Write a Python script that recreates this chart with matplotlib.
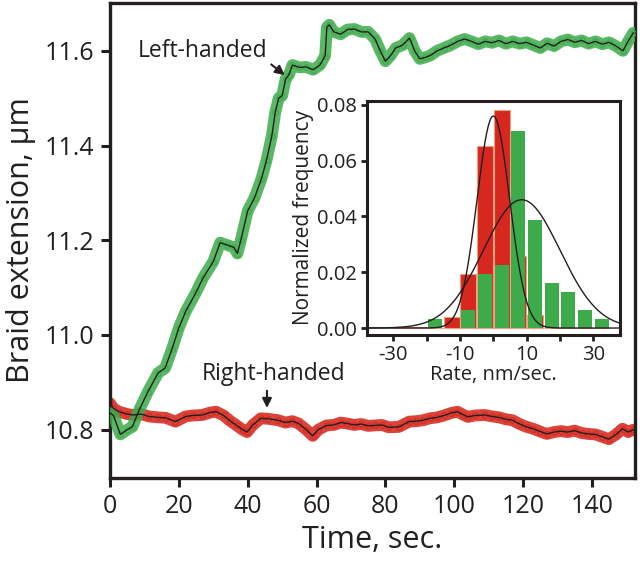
import numpy as np
import matplotlib
matplotlib.use("Agg")
import matplotlib.pyplot as plt

plt.rcParams['font.family'] = ['Open Sans', 'DejaVu Sans']

# ---- main trace data (time in s, extension in um) ----
t_left = [0, 1, 3, 5, 6.5, 8.5, 11, 14, 16, 18, 20, 22, 25, 27, 30, 32, 34, 36, 37, 38,
          40, 42, 44, 45.5, 47, 48, 49, 50, 51, 52, 53, 55, 57, 59, 61, 62.5, 63, 63.7,
          65, 67, 69, 71, 73, 75, 77, 78.5, 80, 81.5, 83, 85, 87, 88.5, 90, 91.5, 93,
          95, 97, 99, 101, 103, 105, 107, 109, 111, 113, 115, 117, 119, 121, 123, 125,
          127, 129, 131, 133, 135, 137, 139, 141, 143, 145, 147, 149, 150.5, 152]
v_left = [10.835, 10.83, 10.79, 10.80, 10.806, 10.842, 10.88, 10.92, 10.93, 10.97,
          11.015, 11.05, 11.09, 11.12, 11.155, 11.195, 11.19, 11.185, 11.172, 11.20,
          11.262, 11.29, 11.33, 11.37, 11.42, 11.47, 11.50, 11.505, 11.54, 11.55,
          11.57, 11.565, 11.566, 11.56, 11.57, 11.59, 11.65, 11.655,
          11.64, 11.635, 11.645, 11.646, 11.64, 11.64, 11.625, 11.60, 11.578, 11.59,
          11.606, 11.612, 11.627, 11.60, 11.583, 11.586, 11.59,
          11.60, 11.606, 11.612, 11.62, 11.625, 11.62, 11.614, 11.62, 11.617, 11.622,
          11.615, 11.62, 11.615, 11.618, 11.612, 11.606,
          11.616, 11.61, 11.62, 11.624, 11.618, 11.622, 11.615, 11.62, 11.614, 11.618,
          11.61, 11.60, 11.62, 11.638]

t_right = [0, 1, 2.6, 5, 6.8, 9, 11.3, 14, 16.2, 19, 22, 24, 26.8, 29, 30.8, 33, 35,
           36.8, 38.5, 39.8, 41.5, 43.8, 46, 48.8, 51, 53, 54.8, 57, 58.9, 60.5, 62.9,
           65, 67, 68.9, 71, 73, 75, 76.9, 79, 81, 83.9, 86.9, 89, 91, 92.9, 95, 97,
           99, 100.9, 102.5, 103.9, 106, 108.9, 111, 113, 115, 116.9, 119, 121, 122.9,
           125, 126.9, 129, 131, 132.9, 135, 137, 138.9, 141, 143, 144.9, 147, 148.9,
           150.5, 152]
v_right = [10.856, 10.845, 10.838, 10.833, 10.831, 10.833, 10.828, 10.826, 10.825,
           10.817, 10.828, 10.83, 10.831, 10.836, 10.838, 10.83, 10.818,
           10.809, 10.80, 10.795, 10.81, 10.824, 10.823, 10.820, 10.815, 10.818,
           10.813, 10.80, 10.787, 10.80, 10.809,
           10.81, 10.815, 10.813, 10.81, 10.812, 10.808, 10.809, 10.81, 10.805,
           10.806, 10.817, 10.818, 10.82, 10.824, 10.826, 10.83,
           10.835, 10.838, 10.832, 10.827, 10.83, 10.831, 10.828, 10.826, 10.822,
           10.820, 10.812, 10.806, 10.802,
           10.796, 10.791, 10.795, 10.797, 10.795, 10.798, 10.793, 10.791, 10.79,
           10.785, 10.78, 10.79, 10.802, 10.795, 10.80]

x_ticks = [0, 20, 40, 60, 80, 100, 120, 140]
y_ticks = [10.8, 11.0, 11.2, 11.4, 11.6]

# ---- inset histogram data ----
bin_left = [-30, -25, -20, -15, -10, -5, 0, 5, 10, 15, 20, 25, 30]
freq_right = [0.0005, 0.0005, 0.0, 0.0038, 0.0193, 0.0654, 0.0782, 0.0257, 0.0045,
              0.0, 0.0, 0.0, 0.0]
freq_left = [0.0, 0.0, 0.0033, 0.0, 0.0066, 0.0193, 0.0226, 0.0708, 0.0386,
             0.0161, 0.0129, 0.0066, 0.0033]
# Gaussian fit parameters (amplitude, mean, sigma)
fit_right = (0.076, 0.0, 4.9)
fit_left = (0.046, 8.5, 11.5)

GREEN = '#3dab4a'
RED = '#d6281f'
DARK = '#231f20'

fig = plt.figure(figsize=(6.4, 5.69), dpi=100)
ax = fig.add_axes([110/640, 1-478/569, 525/640, 475/569])

# point cloud bands
ax.plot(t_right, v_right, color=RED, lw=8.5, alpha=0.88, solid_capstyle='round',
        solid_joinstyle='round', zorder=2)
ax.plot(t_left, v_left, color=GREEN, lw=8.5, alpha=0.85, solid_capstyle='round',
        solid_joinstyle='round', zorder=3)
ax.plot(t_right, v_right, 'o', mfc='none', mec=RED, ms=4, mew=0.8, zorder=2)
ax.plot(t_left, v_left, 'o', mfc='none', mec=GREEN, ms=4, mew=0.8, zorder=3)
ax.plot(t_right, v_right, color=DARK, lw=1.0, zorder=4)
ax.plot(t_left, v_left, color=DARK, lw=1.0, zorder=5)

ax.set_xlim(0, 152.5)
ax.set_ylim(10.698, 11.701)
ax.set_xticks(x_ticks)
ax.set_yticks(y_ticks)
ax.set_yticklabels([f'{v:.1f}' for v in y_ticks])
for s in ax.spines.values():
    s.set_linewidth(2.4)
    s.set_color(DARK)
ax.tick_params(direction='out', length=6.5, width=2.2, labelsize=18, colors=DARK, pad=5)
ax.set_xlabel('Time, sec.', fontsize=22, color=DARK, labelpad=4)
ax.set_ylabel('Braid extension, μm', fontsize=22, color=DARK, labelpad=6)

ax.annotate('', xy=(51.4, 11.545), xytext=(46.2, 11.575),
            arrowprops=dict(arrowstyle='-|>', color=DARK, lw=1.5, mutation_scale=14), zorder=6)
ax.text(27.0, 11.600, 'Left-handed', fontsize=16.5, color=DARK, ha='center', va='center')
ax.annotate('', xy=(45.6, 10.840), xytext=(45.6, 10.888),
            arrowprops=dict(arrowstyle='-|>', color=DARK, lw=1.5, mutation_scale=14), zorder=6)
ax.text(47.4, 10.918, 'Right-handed', fontsize=16.5, color=DARK, ha='center', va='center')

# ---- inset ----
ia = fig.add_axes([366.7/640, 1-335/569, 253.3/640, 234.3/569])
ia.bar(np.array(bin_left) + 0.1, freq_right, width=4.8, align='edge', color=RED,
       edgecolor='#f0a080', linewidth=0.8, zorder=2)
ia.bar(np.array(bin_left) + 0.4, freq_left, width=4.2, align='edge', color=GREEN,
       edgecolor='none', zorder=3)
xs = np.linspace(-38, 38, 400)
for amp, mu, sig in (fit_right, fit_left):
    ia.plot(xs, amp*np.exp(-0.5*((xs-mu)/sig)**2), color=DARK, lw=1.0, zorder=4)
ia.set_xlim(-38, 38)
ia.set_ylim(-0.0025, 0.0815)
ia.set_xticks([-30, -20, -10, 0, 10, 20, 30])
ia.set_xticklabels(['-30', '', '-10', '', '10', '', '30'])
ia.set_yticks([0, 0.02, 0.04, 0.06, 0.08])
ia.set_yticklabels(['0.00', '0.02', '0.04', '0.06', '0.08'])
for s in ia.spines.values():
    s.set_linewidth(2.2)
    s.set_color(DARK)
ia.tick_params(direction='out', length=4, width=2, labelsize=14.5, colors=DARK, pad=3)
ia.set_xlabel('Rate, nm/sec.', fontsize=14.5, color=DARK, labelpad=0)
ia.set_ylabel('Normalized frequency', fontsize=15, color=DARK, labelpad=2)

fig.savefig('out.png', dpi=100)
